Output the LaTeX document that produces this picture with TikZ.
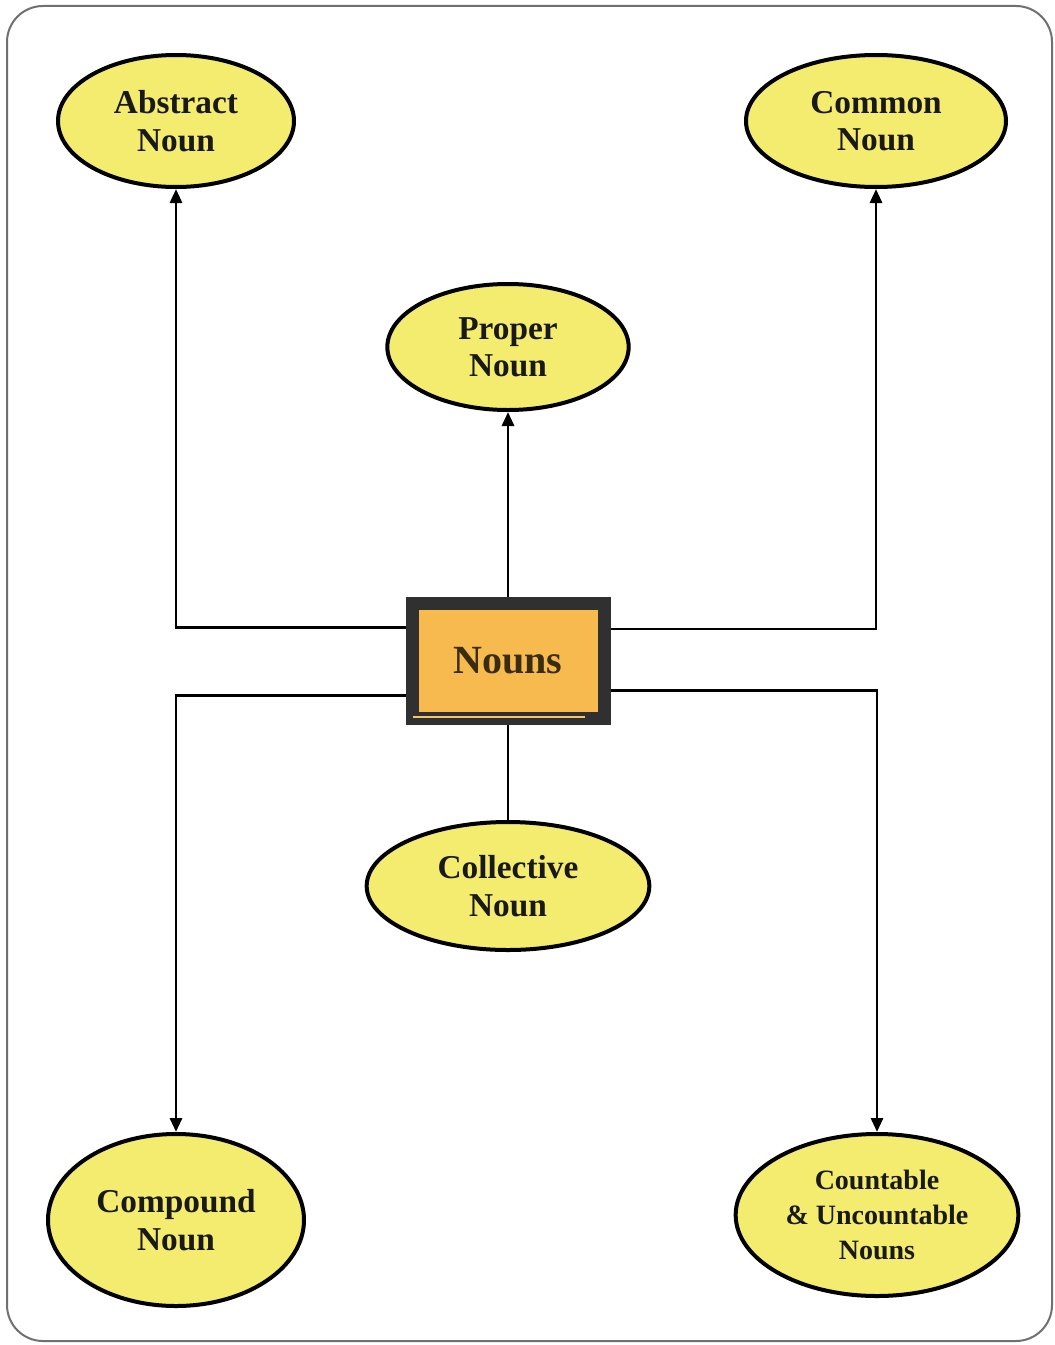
\documentclass[tikz,border=0pt]{standalone}
\usepackage{fontspec}
\setmainfont{Liberation Serif}
\usetikzlibrary{shapes.geometric,arrows.meta,positioning}
\definecolor{ellfill}{HTML}{F3EC6E}
\definecolor{boxfill}{HTML}{F6BA4E}
\definecolor{boxline}{HTML}{303030}
\definecolor{nountxt}{HTML}{3A2C10}
\definecolor{framecol}{HTML}{707070}
\tikzset{
  oval/.style={ellipse, draw=black, fill=ellfill, line width=3pt, inner sep=0pt,
    align=center, font=\fontsize{25}{28}\selectfont\bfseries, text=black!90},
  mainbox/.style={rectangle, draw=boxline, fill=boxfill, line width=9.75pt, inner sep=0pt,
    minimum width=144pt, minimum height=86.25pt,
    font=\fontsize{30}{34}\selectfont\bfseries, text=nountxt},
  conn/.style={draw=black, line width=2.2pt},
  arr/.style={conn, -{Triangle[length=10.5pt,width=9pt]}},
}
\begin{document}
\begin{tikzpicture}[x=0.75pt,y=-0.75pt]
\useasboundingbox (0,0) rectangle (1055,1345);
\draw[framecol, line width=1.5pt, rounded corners=27pt, fill=white] (7,6) rectangle (1052,1341);

\node[oval, minimum width=177pt, minimum height=99pt] (abs) at (176,121) {Abstract\\Noun};
\node[oval, minimum width=195pt, minimum height=99pt] (com) at (876,121) {Common\\Noun};
\node[oval, minimum width=181pt, minimum height=94.5pt] (pro) at (508,347) {Proper\\Noun};
\node[oval, minimum width=212pt, minimum height=96pt] (col) at (508,886) {Collective\\Noun};
\node[oval, minimum width=192pt, minimum height=129pt] (cmp) at (176,1220) {Compound\\Noun};
\node[oval, minimum width=212pt, minimum height=121.5pt,
      font=\fontsize{21}{26.25}\selectfont\bfseries] (cnt) at (877,1215) {Countable\\\& Uncountable\\Nouns};

\node[mainbox] (box) at (508,661) {Nouns};
\draw[boxfill!85!white, line width=2pt] (413,717) -- (585,717);

\draw[arr] ([yshift=25pt]box.west) -| (abs.south);
\draw[arr] ([yshift=24pt]box.east) -| (com.south);
\draw[arr] (box.north) -- (pro.south);
\draw[conn] (box.south) -- (col.north);
\draw[arr] ([yshift=-26pt]box.west) -| (cmp.north);
\draw[arr] ([yshift=-22pt]box.east) -| (cnt.north);
\end{tikzpicture}
\end{document}
